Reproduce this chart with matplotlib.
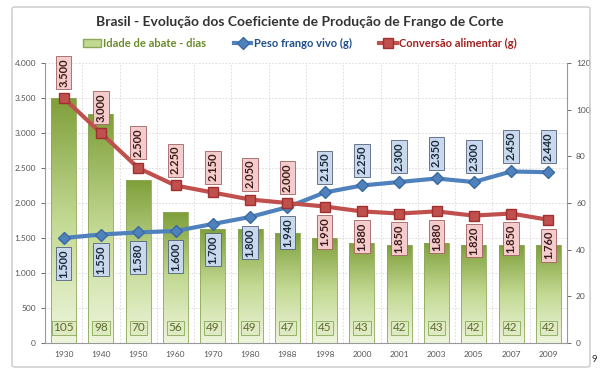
import numpy as np
import matplotlib.pyplot as plt
from matplotlib.patches import FancyBboxPatch, Patch
from matplotlib.colors import LinearSegmentedColormap
from matplotlib.ticker import FuncFormatter, MultipleLocator

plt.rcParams['font.family'] = ['Lato', 'DejaVu Sans']

# data
anos = ['1930', '1940', '1950', '1960', '1970', '1980', '1988',
        '1998', '2000', '2001', '2003', '2005', '2007', '2009']
idade = [105, 98, 70, 56, 49, 49, 47, 45, 43, 42, 43, 42, 42, 42]
peso = [1500, 1550, 1580, 1600, 1700, 1800, 1940,
        2150, 2250, 2300, 2350, 2300, 2450, 2440]
conversao = [3500, 3000, 2500, 2250, 2150, 2050, 2000,
             1950, 1880, 1850, 1880, 1820, 1850, 1760]

BLUE = '#4f81bd'
RED = '#c0504d'

fig = plt.figure(figsize=(6, 3.74), dpi=100)

# outer frame
fig.patches.append(FancyBboxPatch((12 / 600, 7 / 374), 578 / 600, 360 / 374,
                                  boxstyle='round,pad=0,rounding_size=0.005',
                                  transform=fig.transFigure, fill=False,
                                  edgecolor='#c8c8c8', linewidth=1.0))

ax = fig.add_axes([45 / 600, 31 / 374, 522 / 600, 280 / 374])
ax2 = ax.twinx()
ax.set_zorder(ax2.get_zorder() + 1)
ax.patch.set_visible(False)

x = np.arange(len(anos))
w = 0.67

# bars (secondary axis) with vertical gradient
grad = np.linspace(0, 1, 256).reshape(-1, 1)
cmap = LinearSegmentedColormap.from_list('g', ['#eef5dc', '#c3d993', '#7f9f3a'])
bars = ax2.bar(x, idade, width=w, color='none', edgecolor='#8aa85a', linewidth=0.6, zorder=2)
for b in bars:
    bx, by = b.get_x(), b.get_y()
    bw, bh = b.get_width(), b.get_height()
    im = ax2.imshow(grad, extent=[bx, bx + bw, by, by + bh], origin='lower',
                    cmap=cmap, aspect='auto', zorder=1)
    im.set_clip_path(b)
ax2.set_xlim(-0.5, len(anos) - 0.5)
ax2.set_ylim(0, 120)
for xi, v in zip(x, idade):
    ax2.text(xi, 6.5, str(v), ha='center', va='center', fontsize=8.5, color='#5a6b2a',
             bbox=dict(boxstyle='square,pad=0.15', fc='#dfe9c4', ec='#8aa85a', lw=0.6),
             zorder=5)

# lines (primary axis)
ax.plot(x, peso, color=BLUE, lw=3, marker='D', ms=6, mec='#3a6aa0', zorder=4,
        label='Peso frango vivo (g)')
ax.plot(x, conversao, color=RED, lw=3, marker='s', ms=7, mec='#a03030', zorder=4,
        label='Conversão alimentar (g)')
ax.set_ylim(0, 4000)
ax.set_xlim(-0.5, len(anos) - 0.5)

fmt = lambda v: f'{v:,.0f}'.replace(',', '.')
for i, (p, c) in enumerate(zip(peso, conversao)):
    up_red = i < 7
    ax.annotate(fmt(c), (i, c), xytext=(0, 8 if up_red else -8), textcoords='offset points',
                rotation=90, ha='center', va='bottom' if up_red else 'top',
                fontsize=8, fontweight='bold', color='#3a1a1a',
                bbox=dict(boxstyle='square,pad=0.2', fc='#f4cccc', ec='#a06060', lw=0.6),
                zorder=6)
    ax.annotate(fmt(p), (i, p), xytext=(0, -8 if up_red else 8), textcoords='offset points',
                rotation=90, ha='center', va='top' if up_red else 'bottom',
                fontsize=8, fontweight='bold', color='#1a2a3a',
                bbox=dict(boxstyle='square,pad=0.2', fc='#c9d8ec', ec='#50627a', lw=0.6),
                zorder=6)

# axes styling
ax.yaxis.set_major_locator(MultipleLocator(500))
ax.yaxis.set_major_formatter(FuncFormatter(lambda v, _: fmt(v)))
ax2.yaxis.set_major_locator(MultipleLocator(20))
ax.set_xticks(x)
ax.set_xticklabels(anos)
for a in (ax, ax2):
    a.tick_params(labelsize=6, colors='#555555', length=3, width=0.6)
    for s in a.spines.values():
        s.set_visible(False)
ax.spines['left'].set_visible(True)
ax.spines['bottom'].set_visible(True)
ax2.spines['right'].set_visible(True)
for s in (ax.spines['left'], ax.spines['bottom'], ax2.spines['right']):
    s.set_color('#999999')
    s.set_linewidth(0.8)
ax.tick_params(axis='x', length=0, pad=6)

for yv in np.arange(500, 4001, 500):
    ax2.axhline(yv * 120 / 4000, color='#d8d8d8', lw=0.6, ls=(0, (2, 2)), zorder=0)
for xv in np.arange(0.5, len(anos) - 0.5, 1):
    ax2.axvline(xv, color='#d8d8d8', lw=0.6, ls=(0, (2, 2)), zorder=0)

# title and legend
fig.text(0.5, 1 - 22 / 374, 'Brasil - Evolução dos Coeficiente de Produção de Frango de Corte',
         ha='center', va='center', fontsize=10, fontweight='bold', color='#333333')
h_bar = Patch(facecolor='#c3d993', edgecolor='#8aa85a')
h1, l1 = ax.get_legend_handles_labels()
leg = fig.legend([h_bar] + h1, ['Idade de abate - dias'] + l1, loc='center',
                 bbox_to_anchor=(0.5, 1 - 43 / 374), ncol=3, frameon=False, fontsize=8,
                 handlelength=1.6, handletextpad=0.2, columnspacing=2.5)
for t, c in zip(leg.get_texts(), ['#6b8a2a', '#1f4e8c', '#a02020']):
    t.set_color(c)
    t.set_fontweight('bold')

fig.text(594 / 600, 1 - 360 / 374, '9', fontsize=7, color='#333333', ha='center', va='center')

fig.savefig('out.png', dpi=100)
